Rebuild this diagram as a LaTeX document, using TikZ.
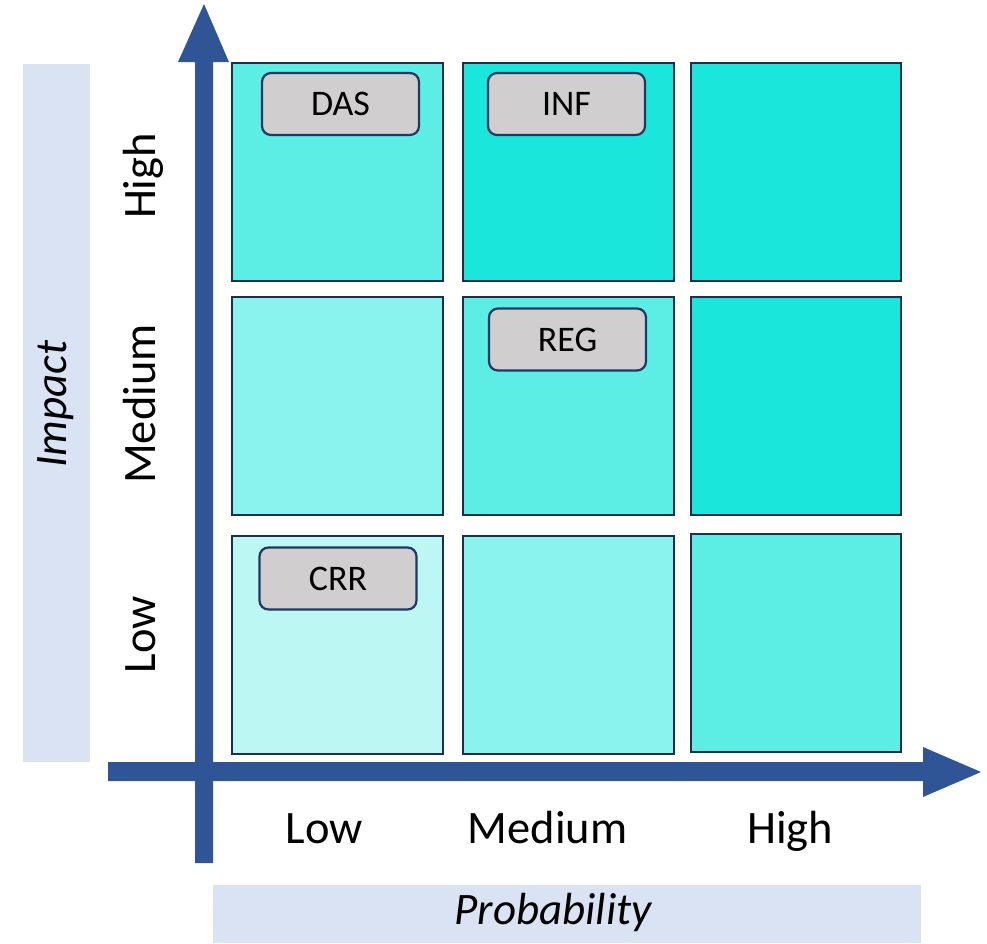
\documentclass[tikz,border=0pt]{standalone}
\usepackage{fontspec}
\setmainfont{Carlito}
\definecolor{axisblue}{HTML}{2F5597}
\definecolor{bandblue}{HTML}{DAE3F3}
\definecolor{cellborder}{HTML}{1F2D4F}
\definecolor{cA}{HTML}{BDF7F3}
\definecolor{cB}{HTML}{8BF3ED}
\definecolor{cC}{HTML}{5CEDE5}
\definecolor{cD}{HTML}{1AE6DC}
\definecolor{tagfill}{HTML}{D0CECE}
\definecolor{tagborder}{HTML}{1F3864}
\tikzset{
  cell/.style={draw=cellborder, line width=2.2pt},
  tag/.style={draw=tagborder, line width=2.2pt, fill=tagfill, rounded corners=9pt,
    minimum width=157pt, minimum height=62pt, inner sep=0pt, font=\fontsize{36}{42}\selectfont},
  ticklab/.style={font=\fontsize{46.5}{52}\selectfont, inner sep=0pt, anchor=base},
  axislab/.style={font=\fontsize{45}{50}\selectfont\itshape, inner sep=0pt},
}
\begin{document}
\begin{tikzpicture}[x=1pt,y=-1pt]
\useasboundingbox (0,0) rectangle (987,943);
% bands
\fill[bandblue] (23,64) rectangle (90,762);
\fill[bandblue] (213,885) rectangle (921,943);
\node[axislab, rotate=90] (impact) at (56,404) {Impact};
\node[axislab] (prob) at (553,912) {Probability};
% cells
\path[cell, fill=cC] (232,63) rectangle (443,281);
\path[cell, fill=cD] (463,63) rectangle (674,281);
\path[cell, fill=cD] (691,63) rectangle (901,281);
\path[cell, fill=cB] (232,297) rectangle (443,515);
\path[cell, fill=cC] (463,297) rectangle (674,515);
\path[cell, fill=cD] (691,297) rectangle (901,515);
\path[cell, fill=cA] (232,536) rectangle (443,754);
\path[cell, fill=cB] (463,536) rectangle (674,754);
\path[cell, fill=cC] (691,534) rectangle (901,752);
% tags
\node[tag] (das) at (340.5,104) {DAS};
\node[tag] (inf) at (566.5,104) {INF};
\node[tag] (reg) at (567.5,339.5) {REG};
\node[tag] (crr) at (338,578.5) {CRR};
% axes
\fill[axisblue] (195,863) -- (195,62) -- (178,62) -- (204,4) -- (229,62) -- (213,62) -- (213,863) -- cycle;
\fill[axisblue] (108,762) -- (923,762) -- (923,747) -- (981,772) -- (923,797) -- (923,781) -- (108,781) -- cycle;
% tick labels
\node[ticklab, rotate=90] (yhigh) at (155,176) {High};
\node[ticklab, rotate=90] (ymed) at (155,404) {Medium};
\node[ticklab, rotate=90] (ylow) at (155,634.5) {Low};
\node[ticklab] (xlow) at (324.5,843) {Low};
\node[ticklab] (xmed) at (547.5,843) {Medium};
\node[ticklab] (xhigh) at (790,843) {High};
\end{tikzpicture}
\end{document}
